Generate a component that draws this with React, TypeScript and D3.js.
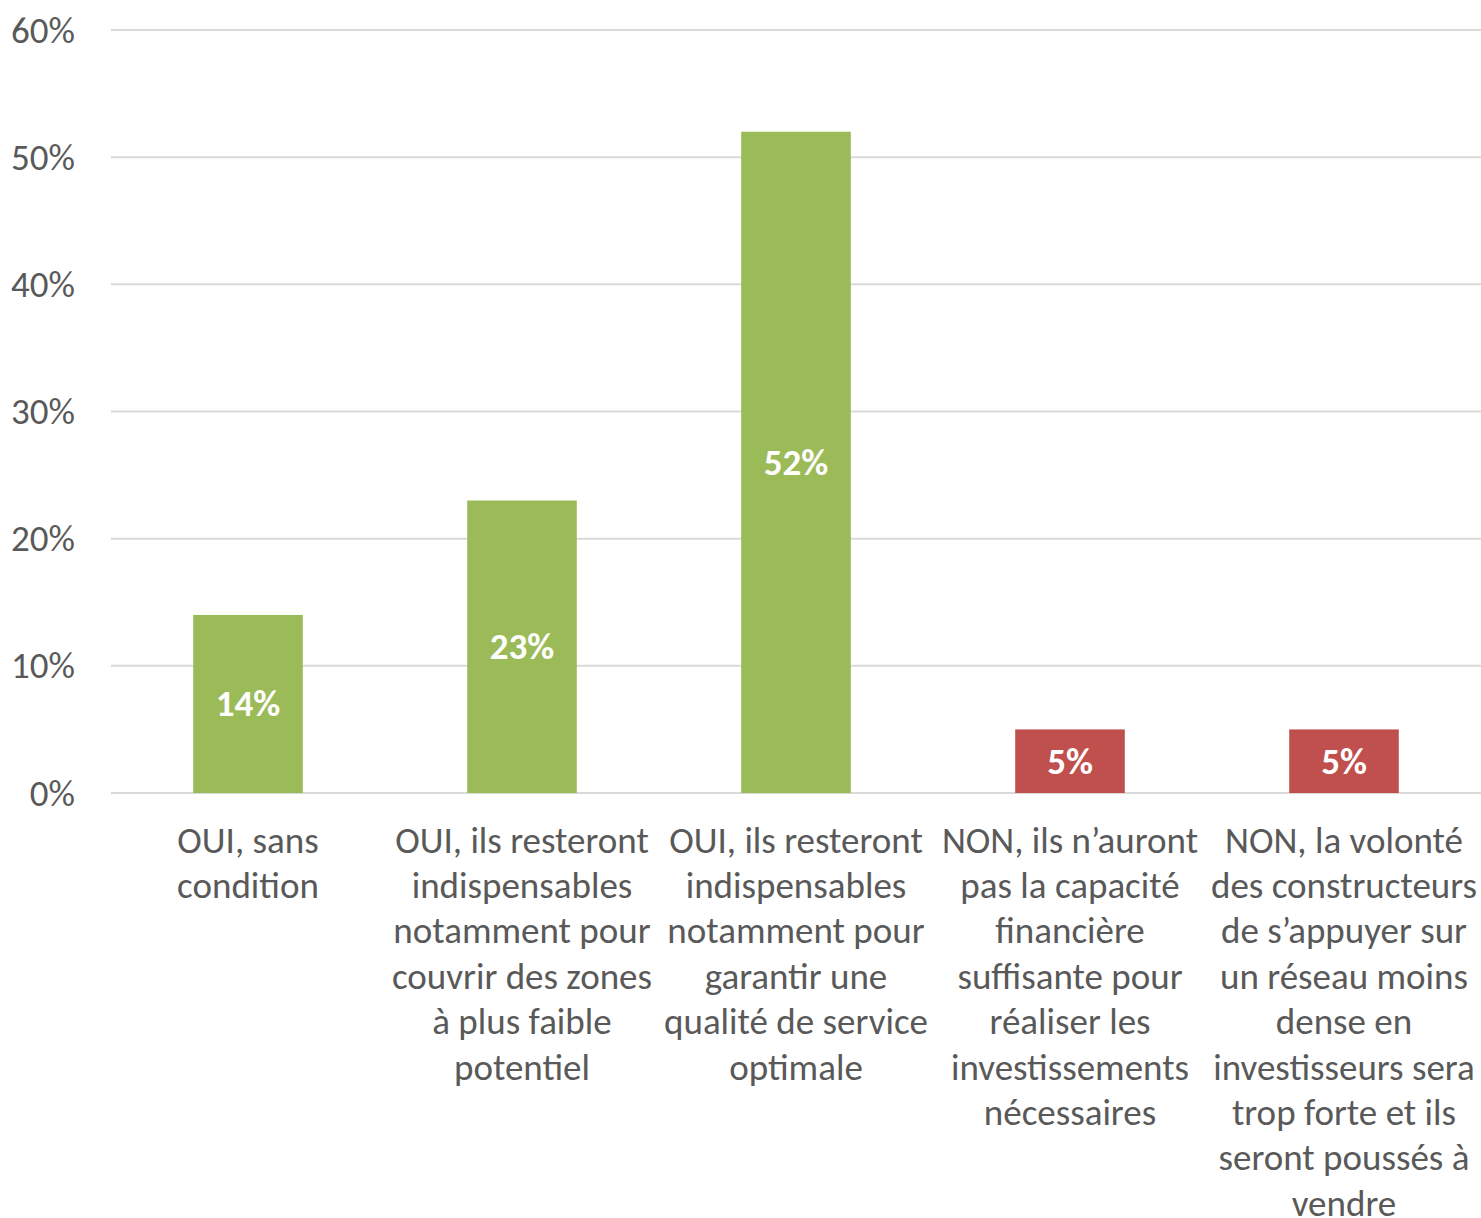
import React from "react";
import * as d3 from "d3";

const categories: string[][] = [
  ["OUI, sans", "condition"],
  ["OUI, ils resteront", "indispensables", "notamment pour", "couvrir des zones", "à plus faible", "potentiel"],
  ["OUI, ils resteront", "indispensables", "notamment pour", "garantir une", "qualité de service", "optimale"],
  ["NON, ils n’auront", "pas la capacité", "financière", "suffisante pour", "réaliser les", "investissements", "nécessaires"],
  ["NON, la volonté", "des constructeurs", "de s’appuyer sur", "un réseau moins", "dense en", "investisseurs sera", "trop forte et ils", "seront poussés à", "vendre"],
];
const values: number[] = [0.14, 0.23, 0.52, 0.05, 0.05];
const barColors: string[] = ["#9BBB59", "#9BBB59", "#9BBB59", "#C0504D", "#C0504D"];
const yTicks: number[] = [0, 0.1, 0.2, 0.3, 0.4, 0.5, 0.6];

const W = 1481;
const H = 1218;
const FONT = "Carlito, Calibri, Lato, 'Open Sans', sans-serif";

export default function App() {
  const left = 111;
  const right = 1481;
  const top = 30;
  const bottom = 793;
  const x = d3
    .scaleBand<number>()
    .domain(values.map((_, i) => i))
    .range([left, right])
    .paddingInner(0.6)
    .paddingOuter(0.3);
  const y = d3.scaleLinear().domain([0, 0.6]).range([bottom, top]);
  const fmt = d3.format(".0%");

  return (
    <svg
      width={W}
      height={H}
      style={{ position: "absolute", left: 0, top: 0, background: "#fff" }}
      fontFamily={FONT}
    >
      {yTicks.map((t) => (
        <g key={t}>
          <line x1={left} x2={right} y1={y(t)} y2={y(t)} stroke="#D9D9D9" strokeWidth={2} />
          <text
            x={75}
            y={y(t)}
            textAnchor="end"
            dominantBaseline="central"
            fontSize={37}
            fill="#595959"
          >
            {fmt(t)}
          </text>
        </g>
      ))}
      {values.map((v, i) => {
        const bx = x(i)!;
        const bw = x.bandwidth();
        const cx = bx + bw / 2;
        return (
          <g key={i}>
            <rect x={bx} y={y(v)} width={bw} height={y(0) - y(v)} fill={barColors[i]} />
            <text
              x={cx}
              y={(y(v) + y(0)) / 2}
              textAnchor="middle"
              dominantBaseline="central"
              fontSize={37}
              fontWeight="bold"
              fill="#FFFFFF"
            >
              {fmt(v)}
            </text>
            {categories[i].map((line, j) => (
              <text
                key={j}
                x={cx}
                y={840 + j * 45.4}
                textAnchor="middle"
                dominantBaseline="central"
                fontSize={37}
                fill="#595959"
              >
                {line}
              </text>
            ))}
          </g>
        );
      })}
    </svg>
  );
}
